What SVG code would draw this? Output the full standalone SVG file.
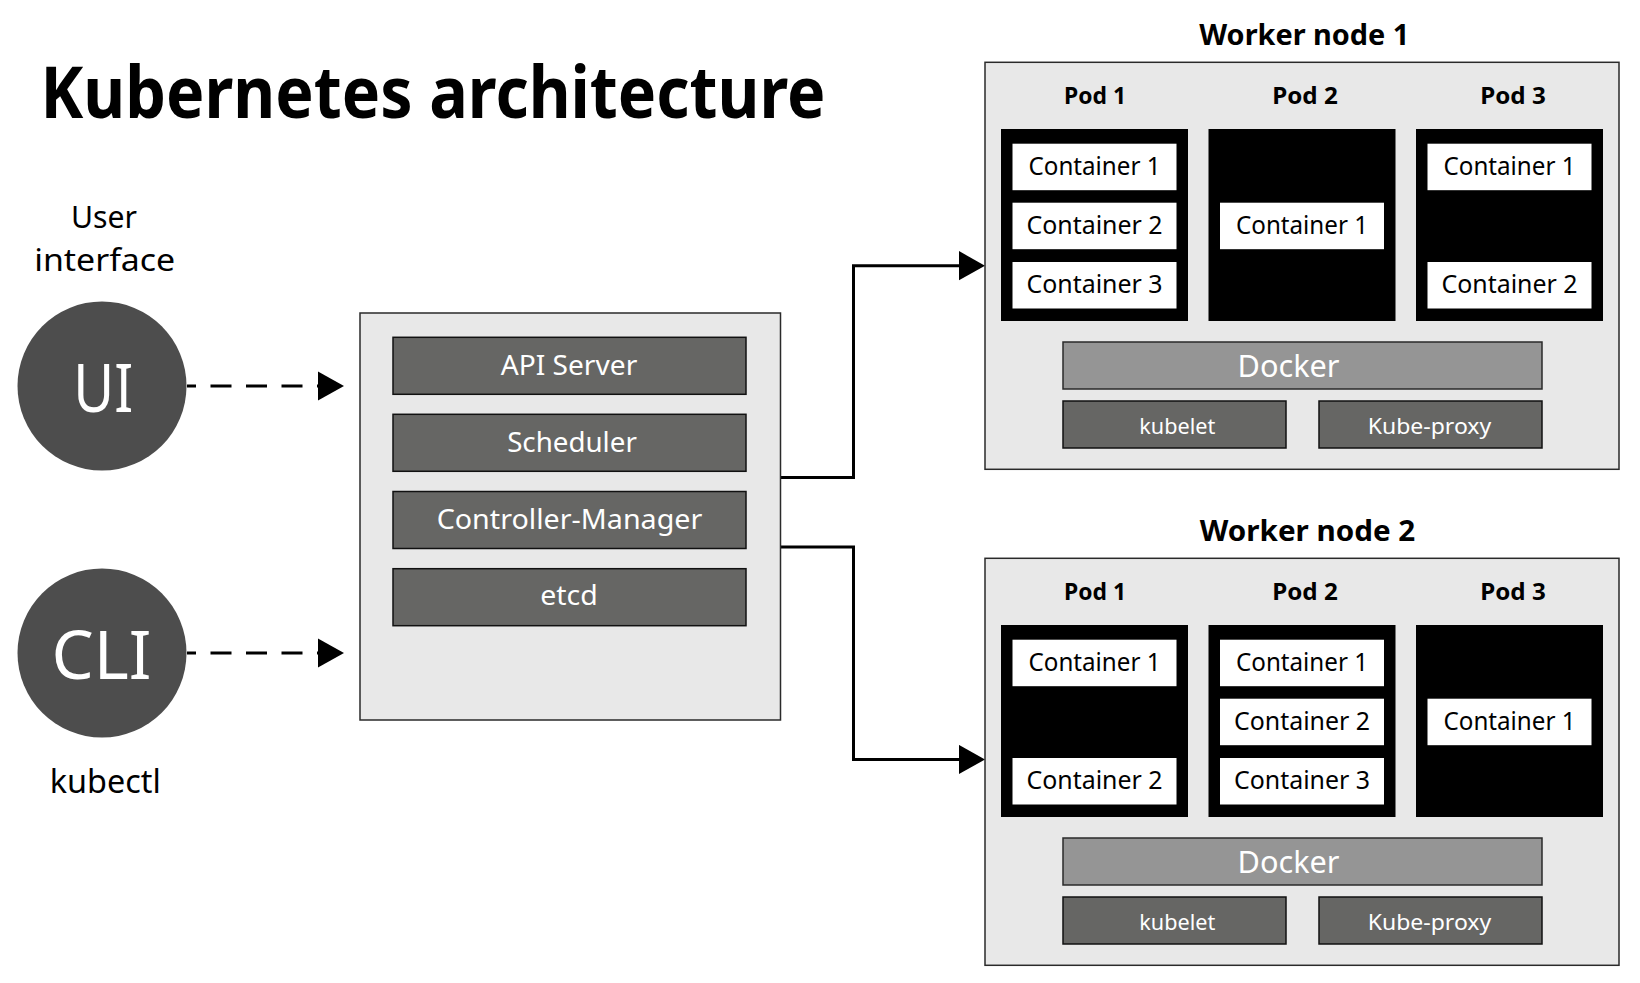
<svg xmlns="http://www.w3.org/2000/svg" width="1640" height="983" viewBox="0 0 1640 983">
<style>
text{font-family:"Noto Sans","Liberation Sans",sans-serif;}
.bg{fill:#ffffff;}
.panel{fill:#e8e8e8;stroke:#2a2a2a;stroke-width:1.5;}
.comp{fill:#666664;stroke:#111;stroke-width:1.5;}
.docker{fill:#959595;stroke:#2a2a2a;stroke-width:1.5;}
.pod{fill:#000;}
.cont{fill:#fff;}
.circ{fill:#4d4d4d;}
.wt{fill:#fff;text-anchor:middle;}
.bt{fill:#000;text-anchor:middle;}
.bold{font-weight:700;}
.conn{fill:none;stroke:#000;stroke-width:3;}
.dash{stroke-dasharray:21 14.5;stroke-dashoffset:12;}
</style>
<defs>
<marker id="arrow" markerUnits="userSpaceOnUse" markerWidth="26" markerHeight="30" refX="2" refY="14.6" orient="auto">
<path d="M0,0 L26,14.6 L0,29.2 Z" fill="#000"/>
</marker>
</defs>
<rect class="bg" x="0" y="0" width="1640" height="983"/>

<g id="title">
<text class="bold" x="40.5" y="118.3" font-size="72" textLength="785" lengthAdjust="spacingAndGlyphs" fill="#000">Kubernetes architecture</text>
</g>

<g id="connectors">
<line class="conn dash" x1="187" y1="386" x2="320" y2="386" marker-end="url(#arrow)"/>
<line class="conn dash" x1="187" y1="653" x2="320" y2="653" marker-end="url(#arrow)"/>
<path class="conn" d="M781,477.5 H853.5 V265.7 H961" marker-end="url(#arrow)"/>
<path class="conn" d="M781,547 H853.5 V759.5 H961" marker-end="url(#arrow)"/>
</g>

<g id="ui">
<text class="bt" x="104" y="228.3" font-size="31" textLength="66" lengthAdjust="spacingAndGlyphs">User</text>
<text class="bt" x="104.7" y="270.7" font-size="31" textLength="141" lengthAdjust="spacingAndGlyphs">interface</text>
<circle class="circ" cx="102" cy="386" r="84.5"/>
<text class="wt" x="103.3" y="411.7" font-size="68" textLength="60" lengthAdjust="spacingAndGlyphs">UI</text>
</g>

<g id="cli">
<circle class="circ" cx="102" cy="653" r="84.5"/>
<text class="wt" x="101.5" y="679" font-size="68" textLength="100" lengthAdjust="spacingAndGlyphs">CLI</text>
<text class="bt" x="105.3" y="792.7" font-size="33" textLength="111" lengthAdjust="spacingAndGlyphs">kubectl</text>
</g>

<g id="master">
<rect class="panel" x="360" y="313" width="420.5" height="407"/>
<rect class="comp" x="393" y="337.3" width="353" height="57"/>
<text class="wt" x="569" y="375" font-size="28" textLength="136.5" lengthAdjust="spacingAndGlyphs">API Server</text>
<rect class="comp" x="393" y="414.3" width="353" height="57"/>
<text class="wt" x="572" y="451.7" font-size="28" textLength="129.7" lengthAdjust="spacingAndGlyphs">Scheduler</text>
<rect class="comp" x="393" y="491.5" width="353" height="57"/>
<text class="wt" x="569.5" y="528.5" font-size="28" textLength="265.7" lengthAdjust="spacingAndGlyphs">Controller-Manager</text>
<rect class="comp" x="393" y="568.7" width="353" height="57"/>
<text class="wt" x="569" y="605" font-size="28" textLength="57.5" lengthAdjust="spacingAndGlyphs">etcd</text>
</g>

<g id="worker1">
<text class="bt bold" x="1304.3" y="45" font-size="29" textLength="210" lengthAdjust="spacingAndGlyphs">Worker node 1</text>
<rect class="panel" x="985" y="62.3" width="634" height="407"/>
<text class="bt bold" x="1095" y="103.5" font-size="23" textLength="62" lengthAdjust="spacingAndGlyphs">Pod 1</text>
<text class="bt bold" x="1305" y="103.5" font-size="23" textLength="65.6" lengthAdjust="spacingAndGlyphs">Pod 2</text>
<text class="bt bold" x="1513" y="103.5" font-size="23" textLength="65.6" lengthAdjust="spacingAndGlyphs">Pod 3</text>
<rect class="pod" x="1001" y="129" width="187" height="192"/>
<rect class="pod" x="1208.5" y="129" width="187" height="192"/>
<rect class="pod" x="1416" y="129" width="187" height="192"/>
<rect class="cont" x="1012.5" y="143.7" width="164" height="46.5"/>
<text class="bt" x="1094.5" y="175" font-size="25" textLength="132" lengthAdjust="spacingAndGlyphs">Container 1</text>
<rect class="cont" x="1012.5" y="202.7" width="164" height="46.5"/>
<text class="bt" x="1094.5" y="234" font-size="25" textLength="136" lengthAdjust="spacingAndGlyphs">Container 2</text>
<rect class="cont" x="1012.5" y="262" width="164" height="46.5"/>
<text class="bt" x="1094.5" y="293.3" font-size="25" textLength="136" lengthAdjust="spacingAndGlyphs">Container 3</text>
<rect class="cont" x="1220" y="202.7" width="164" height="46.5"/>
<text class="bt" x="1302" y="234" font-size="25" textLength="132" lengthAdjust="spacingAndGlyphs">Container 1</text>
<rect class="cont" x="1427.5" y="143.7" width="164" height="46.5"/>
<text class="bt" x="1509.5" y="175" font-size="25" textLength="132" lengthAdjust="spacingAndGlyphs">Container 1</text>
<rect class="cont" x="1427.5" y="262" width="164" height="46.5"/>
<text class="bt" x="1509.5" y="293.3" font-size="25" textLength="136" lengthAdjust="spacingAndGlyphs">Container 2</text>
<rect class="docker" x="1063" y="342" width="479" height="47"/>
<text class="wt" x="1288.5" y="376.7" font-size="30" textLength="102" lengthAdjust="spacingAndGlyphs">Docker</text>
<rect class="comp" x="1063" y="401" width="223" height="47"/>
<text class="wt" x="1177.3" y="434" font-size="22" textLength="76" lengthAdjust="spacingAndGlyphs">kubelet</text>
<rect class="comp" x="1319" y="401" width="223" height="47"/>
<text class="wt" x="1429.5" y="434" font-size="22" textLength="123.6" lengthAdjust="spacingAndGlyphs">Kube-proxy</text>
</g>

<g id="worker2">
<text class="bt bold" x="1307.5" y="541" font-size="29" textLength="215.5" lengthAdjust="spacingAndGlyphs">Worker node 2</text>
<rect class="panel" x="985" y="558.3" width="634" height="407"/>
<text class="bt bold" x="1095" y="599.5" font-size="23" textLength="62" lengthAdjust="spacingAndGlyphs">Pod 1</text>
<text class="bt bold" x="1305" y="599.5" font-size="23" textLength="65.6" lengthAdjust="spacingAndGlyphs">Pod 2</text>
<text class="bt bold" x="1513" y="599.5" font-size="23" textLength="65.6" lengthAdjust="spacingAndGlyphs">Pod 3</text>
<rect class="pod" x="1001" y="625" width="187" height="192"/>
<rect class="pod" x="1208.5" y="625" width="187" height="192"/>
<rect class="pod" x="1416" y="625" width="187" height="192"/>
<rect class="cont" x="1012.5" y="639.7" width="164" height="46.5"/>
<text class="bt" x="1094.5" y="671" font-size="25" textLength="132" lengthAdjust="spacingAndGlyphs">Container 1</text>
<rect class="cont" x="1012.5" y="758" width="164" height="46.5"/>
<text class="bt" x="1094.5" y="789.3" font-size="25" textLength="136" lengthAdjust="spacingAndGlyphs">Container 2</text>
<rect class="cont" x="1220" y="639.7" width="164" height="46.5"/>
<text class="bt" x="1302" y="671" font-size="25" textLength="132" lengthAdjust="spacingAndGlyphs">Container 1</text>
<rect class="cont" x="1220" y="698.7" width="164" height="46.5"/>
<text class="bt" x="1302" y="730" font-size="25" textLength="136" lengthAdjust="spacingAndGlyphs">Container 2</text>
<rect class="cont" x="1220" y="758" width="164" height="46.5"/>
<text class="bt" x="1302" y="789.3" font-size="25" textLength="136" lengthAdjust="spacingAndGlyphs">Container 3</text>
<rect class="cont" x="1427.5" y="698.7" width="164" height="46.5"/>
<text class="bt" x="1509.5" y="730" font-size="25" textLength="132" lengthAdjust="spacingAndGlyphs">Container 1</text>
<rect class="docker" x="1063" y="838" width="479" height="47"/>
<text class="wt" x="1288.5" y="872.7" font-size="30" textLength="102" lengthAdjust="spacingAndGlyphs">Docker</text>
<rect class="comp" x="1063" y="897" width="223" height="47"/>
<text class="wt" x="1177.3" y="930" font-size="22" textLength="76" lengthAdjust="spacingAndGlyphs">kubelet</text>
<rect class="comp" x="1319" y="897" width="223" height="47"/>
<text class="wt" x="1429.5" y="930" font-size="22" textLength="123.6" lengthAdjust="spacingAndGlyphs">Kube-proxy</text>
</g>
</svg>
